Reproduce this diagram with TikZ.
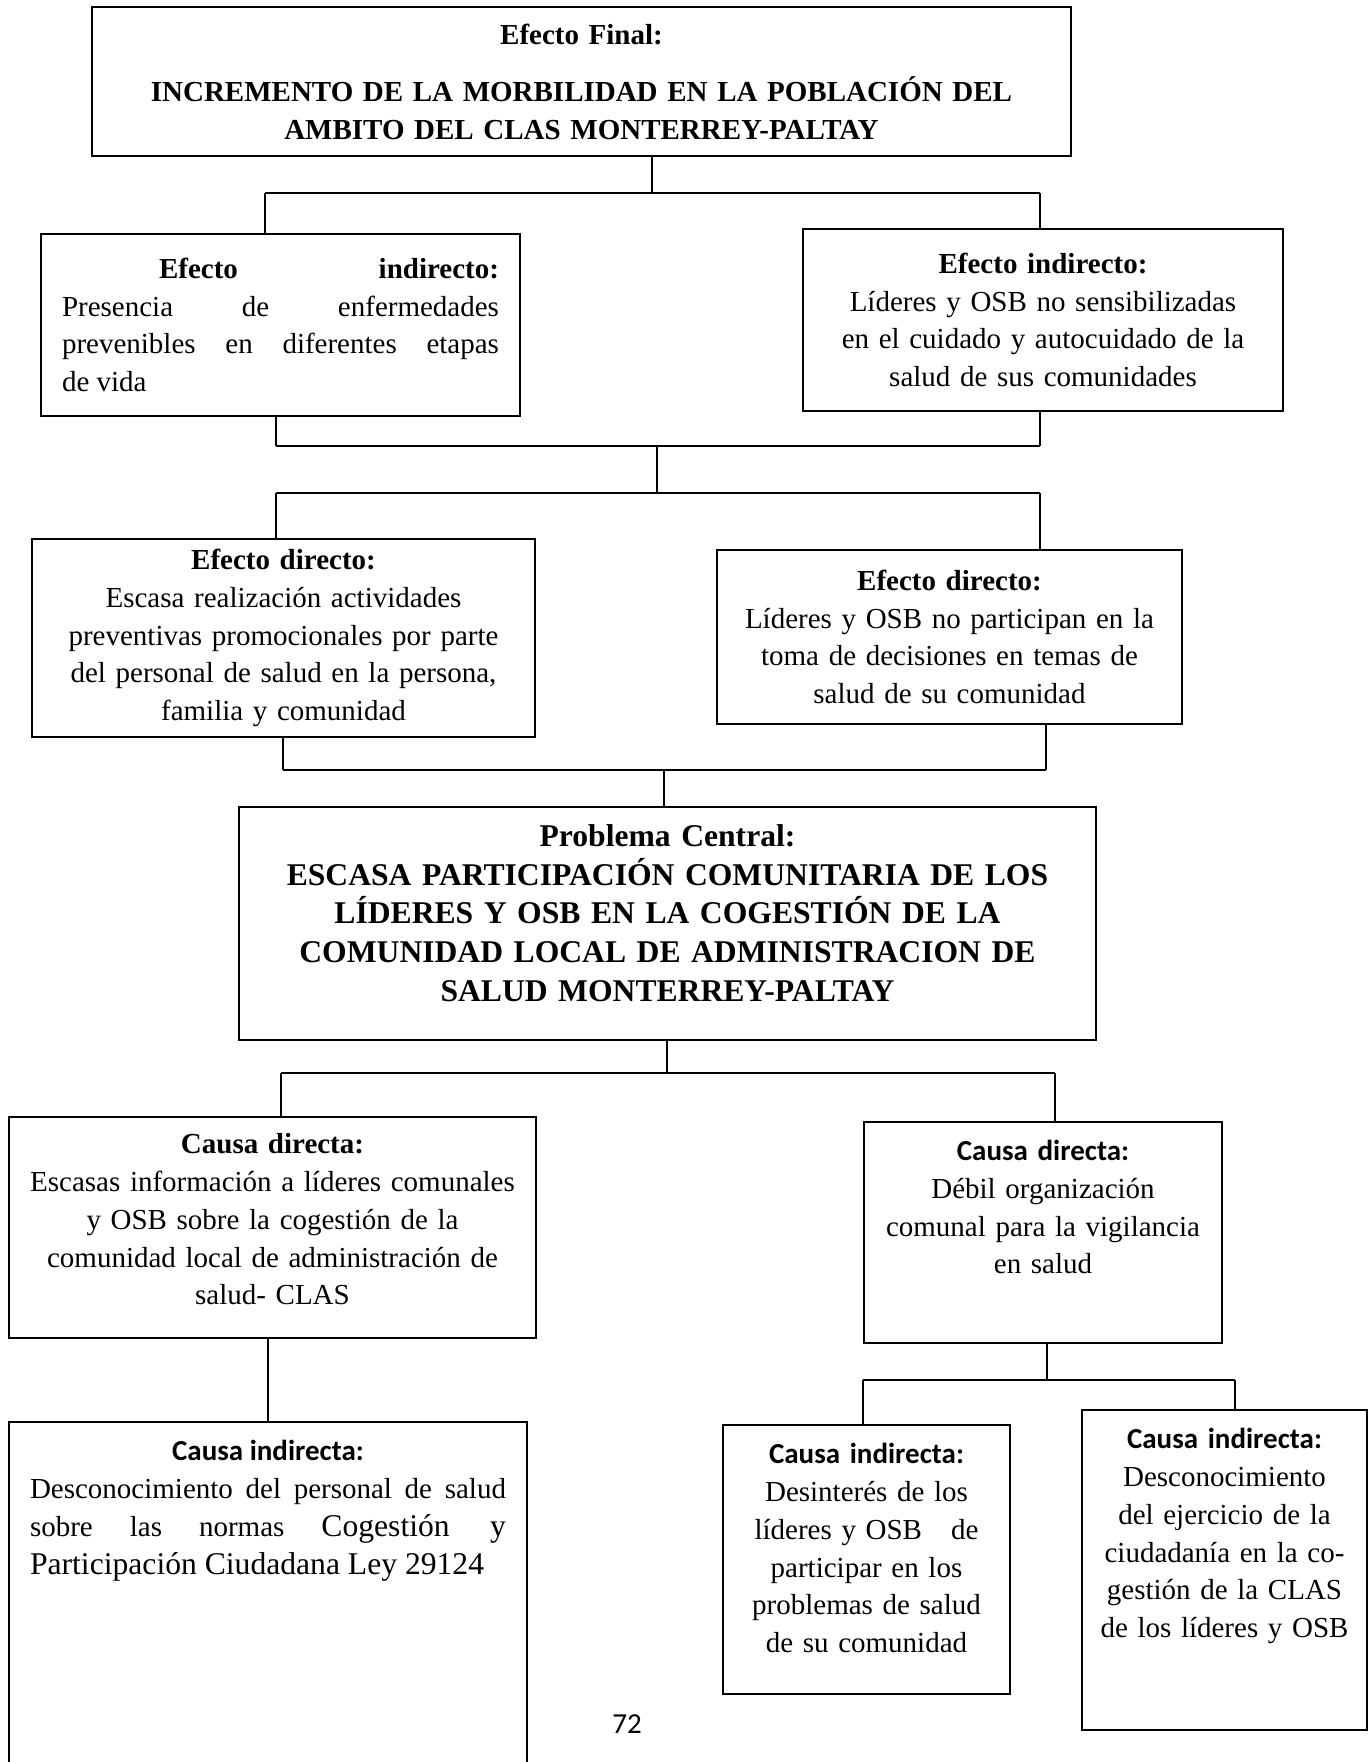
\documentclass[tikz,border=0pt]{standalone}
\usepackage{fontspec}
\setmainfont{Liberation Serif}
\setsansfont{Carlito}
\usepackage{tikz}
\usetikzlibrary{positioning}

\tikzset{
  box/.style={draw, line width=1.2pt, inner sep=0pt, align=center},
  txt/.style={inner sep=0pt, align=center},
  link/.style={line width=0.7pt},
  bus/.style={line width=1.2pt},
}

\begin{document}
\begin{tikzpicture}[x=0.02cm, y=-0.02cm, font=\fontsize{16.5}{21.5}\selectfont]
        \useasboundingbox (0,0) rectangle (1369,1762);

        % Efecto final
        \node[box, minimum width=19.58cm, minimum height=2.98cm, text width=19cm] (ef) at (581.5,81.5)
          {\textbf{Efecto Final:}\\[11pt]
           \textbf{INCREMENTO DE LA MORBILIDAD EN LA POBLACIÓN DEL}\\
           \textbf{AMBITO DEL CLAS MONTERREY-PALTAY}};

        % Efectos indirectos
        \node[box, minimum width=9.58cm, minimum height=3.64cm, text width=8.74cm, align=justify] (ei1) at (280.5,325)
          {\hspace*{1.94cm}\textbf{Efecto}\hfill\textbf{indirecto:}\\
           Presencia de enfermedades\linebreak prevenibles en diferentes etapas\linebreak de vida};
        \node[box, minimum width=9.6cm, minimum height=3.64cm, text width=9cm] (ei2) at (1043,320)
          {\textbf{Efecto indirecto:}\\ Líderes y OSB no sensibilizadas\\
           en el cuidado y autocuidado de la\\ salud de sus comunidades};

        % Efectos directos
        \node[box, minimum width=10.06cm, minimum height=3.96cm, text width=9.6cm] (ed1) at (283.5,638)
          {\textbf{Efecto directo:}\\ Escasa realización actividades\\
           preventivas promocionales por parte\\ del personal de salud en la persona,\\
           familia y comunidad};
        \node[box, minimum width=9.3cm, minimum height=3.48cm, text width=8.8cm] (ed2) at (949.5,637)
          {\textbf{Efecto directo:}\\ Líderes y OSB no participan en la\\
           toma de decisiones en temas de\\ salud de su comunidad};

        % Problema central
        \node[box, minimum width=17.14cm, minimum height=4.66cm, text width=16.6cm,
              font=\fontsize{18}{22}\selectfont\bfseries] (pc) at (667.5,923.5)
          {Problema Central:\\ ESCASA PARTICIPACIÓN COMUNITARIA DE LOS\\
           LÍDERES Y OSB EN LA COGESTIÓN DE LA\\
           COMUNIDAD LOCAL DE ADMINISTRACION DE\\ SALUD MONTERREY-PALTAY\\[-10pt]\mbox{}};

        % Causas directas
        \node[box, minimum width=10.54cm, minimum height=4.42cm, text width=10.2cm] (cd1) at (272.5,1227.5)
          {\textbf{Causa directa:}\\ Escasas información a líderes comunales\\
           y OSB sobre la cogestión de la\\ comunidad local de administración de\\
           salud- CLAS\\[-12pt]\mbox{}};
        \node[box, minimum width=7.16cm, minimum height=4.42cm] (cd2) at (1043,1232.5) {};
        \node[txt, text width=6.8cm, anchor=north, below=0.38cm of cd2.north] (cd2t)
          {{\sffamily\bfseries Causa directa:}\\ Débil organización\\
           comunal para la vigilancia\\ en salud};

        % Causas indirectas
        \node[box, minimum width=10.36cm, minimum height=6.96cm] (ci1) at (268,1596) {};
        \node[txt, text width=9.52cm, align=justify, below=0.38cm of ci1.north] (ci1t)
          {{\centering\sffamily\bfseries Causa indirecta:\par}
           Desconocimiento del personal de salud\linebreak sobre las normas
           {\fontsize{18}{21.5}\selectfont Cogestión y\linebreak
           Participación Ciudadana Ley 29124}};
        \node[box, minimum width=5.74cm, minimum height=5.38cm] (ci2) at (866.5,1559.5) {};
        \node[txt, text width=5.5cm, below=0.38cm of ci2.north] (ci2t)
          {{\sffamily\bfseries Causa indirecta:}\\ Desinterés de los\\
           líderes y OSB\ \ \ de\\ participar en los\\ problemas de salud\\ de su comunidad};
        \node[box, minimum width=5.7cm, minimum height=6.4cm] (ci3) at (1224.5,1570) {};
        \node[txt, text width=5.5cm, below=0.38cm of ci3.north] (ci3t)
          {{\sffamily\bfseries Causa indirecta:}\\ Desconocimiento\\
           del ejercicio de la\\ ciudadanía en la co-\\ gestión de la CLAS\\
           de los líderes y OSB};

        % Numero de pagina
        \node[txt, font=\sffamily\fontsize{16.5}{20}\selectfont] (pag) at (627,1724) {72};

        % Puntos de union
        \coordinate (aL) at (265,193);  \coordinate (aM) at (652,193);  \coordinate (aR) at (1040,193);
        \coordinate (bL) at (276,446);  \coordinate (bM) at (657,446);  \coordinate (bR) at (1040,446);
        \coordinate (cL) at (276,493);  \coordinate (cM) at (657,493);  \coordinate (cR) at (1040,493);
        \coordinate (dL) at (283,770);  \coordinate (dM) at (664,770);  \coordinate (dR) at (1046,770);
        \coordinate (eL) at (281,1073); \coordinate (eM) at (667,1073); \coordinate (eR) at (1055,1073);
        \coordinate (gL) at (863,1380); \coordinate (gM) at (1047,1380); \coordinate (gR) at (1235,1380);

        % Lineas
        \draw[link] (ef.south -| aM) -- (aM);
        \draw[bus] (aL) -- (aR);
        \draw[link] (aL) -- (ei1.north -| aL);
        \draw[link] (aR) -- (ei2.north -| aR);

        \draw[link] (ei1.south -| bL) -- (bL);
        \draw[link] (ei2.south -| bR) -- (bR);
        \draw[bus] (bL) -- (bR);
        \draw[link] (bM) -- (cM);
        \draw[bus] (cL) -- (cR);
        \draw[link] (cL) -- (ed1.north -| cL);
        \draw[link] (cR) -- (ed2.north -| cR);

        \draw[link] (ed1.south -| dL) -- (dL);
        \draw[link] (ed2.south -| dR) -- (dR);
        \draw[bus] (dL) -- (dR);
        \draw[link] (dM) -- (pc.north -| dM);

        \draw[link] (pc.south -| eM) -- (eM);
        \draw[bus] (eL) -- (eR);
        \draw[link] (eL) -- (cd1.north -| eL);
        \draw[link] (eR) -- (cd2.north -| eR);

        \draw[link] (cd1.south -| ci1.north) -- (ci1.north);

        \draw[link] (cd2.south -| gM) -- (gM);
        \draw[bus] (gL) -- (gR);
        \draw[link] (gL) -- (ci2.north -| gL);
        \draw[link] (gR) -- (ci3.north -| gR);
\end{tikzpicture}
\end{document}
